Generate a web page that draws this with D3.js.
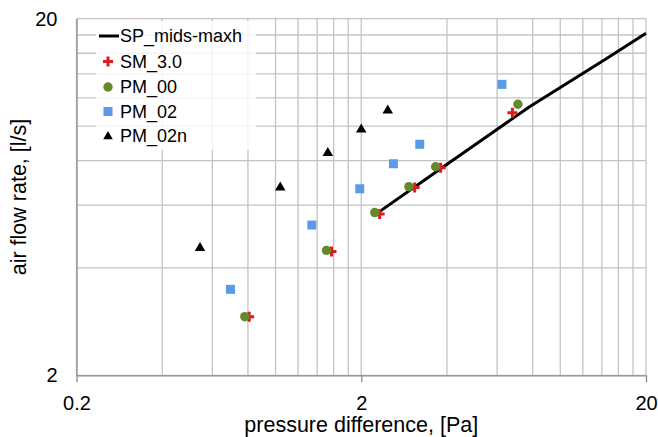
<!DOCTYPE html>
<html>
<head>
<meta charset="utf-8">
<script src="https://cdn.jsdelivr.net/npm/d3@7/dist/d3.min.js"></script>
<style>
  html, body { margin: 0; padding: 0; background: #fff; }
  svg { display: block; font-family: "Liberation Sans", Arial, sans-serif; }
</style>
</head>
<body>
<svg id="chart" width="658" height="437"></svg>
<script>
// Measured air flow rate vs pressure difference (log-log)
const xTickValues = [0.2, 2, 20];
const xTickLabels = ["0.2", "2", "20"];
const yTickValues = [2, 20];
const yTickLabels = ["2", "20"];

// SP_mids-maxh model curve
const spPressure = [2.2, 3.8, 7.8, 14.5, 20];
const spFlow     = [5.59, 7.59, 11.33, 15.45, 18.2];

// SM_3.0
const smPressure = [0.808, 1.572, 2.32, 3.08, 3.80, 6.79];
const smFlow     = [2.92, 4.45, 5.67, 6.72, 7.64, 10.90];

// PM_00
const pm00Pressure = [0.780, 1.51, 2.23, 2.94, 3.65, 7.10];
const pm00Flow     = [2.92, 4.48, 5.72, 6.76, 7.69, 11.51];

// PM_02
const pm02Pressure = [0.695, 1.341, 1.976, 2.594, 3.21, 6.24];
const pm02Flow     = [3.484, 5.277, 6.67, 7.84, 8.89, 13.09];

// PM_02n
const pm02nPressure = [0.543, 1.039, 1.526, 2.0, 2.478];
const pm02nFlow     = [4.566, 6.746, 8.43, 9.81, 11.09];

const seriesNames = ["SP_mids-maxh", "SM_3.0", "PM_00", "PM_02", "PM_02n"];

const svg = d3.select("#chart");
const plotLeft = 76.5, plotRight = 646, plotTop = 18.7, plotBottom = 375.3;

const x = d3.scaleLog().domain([0.2, 20]).range([plotLeft, plotRight]);
const y = d3.scaleLog().domain([2, 20]).range([plotBottom, plotTop]);

const gridColor = "#c3c3c3";
const axisColor = "#8c8c8c";

// Grid: every 0.2 in the first decade, every 2 in the second; y every 2
const xGrid = d3.range(1, 11).map(k => 0.2 * k).concat(d3.range(2, 11).map(k => 2 * k));
const yGrid = d3.range(1, 11).map(k => 2 * k);

const grid = svg.append("g");
grid.selectAll("line.gx").data(xGrid).join("line")
  .attr("class", "gx")
  .attr("x1", d => x(d)).attr("x2", d => x(d))
  .attr("y1", plotTop).attr("y2", plotBottom)
  .attr("stroke", gridColor).attr("stroke-width", 1.3);
grid.selectAll("line.gy").data(yGrid).join("line")
  .attr("class", "gy")
  .attr("x1", plotLeft).attr("x2", plotRight)
  .attr("y1", d => y(d)).attr("y2", d => y(d))
  .attr("stroke", gridColor).attr("stroke-width", 1.3);

// Axes
const xAxis = d3.axisBottom(x)
  .tickValues(xTickValues)
  .tickFormat((d, i) => xTickLabels[i])
  .tickSize(7).tickSizeOuter(0).tickPadding(14);
const gx = svg.append("g").attr("transform", `translate(0,${plotBottom})`).call(xAxis);
gx.select(".domain").attr("stroke", axisColor).attr("stroke-width", 1.3);
gx.selectAll(".tick line").attr("stroke", axisColor).attr("stroke-width", 1.3);
gx.selectAll(".tick text").attr("fill", "#000").attr("font-size", 20)
  .attr("font-family", "Liberation Sans, Arial, sans-serif");

const yAxis = d3.axisLeft(y)
  .tickValues(yTickValues)
  .tickFormat((d, i) => yTickLabels[i])
  .tickSize(0).tickSizeOuter(0).tickPadding(19);
const gy = svg.append("g").attr("transform", `translate(${plotLeft},0)`).call(yAxis);
gy.select(".domain").attr("stroke", axisColor).attr("stroke-width", 1.3);
gy.selectAll(".tick text").attr("fill", "#000").attr("font-size", 20)
  .attr("font-family", "Liberation Sans, Arial, sans-serif");

// Axis titles
svg.append("text")
  .attr("x", (plotLeft + plotRight) / 2).attr("y", 431.5)
  .attr("text-anchor", "middle").attr("font-size", 21.5)
  .text("pressure difference, [Pa]");
svg.append("text")
  .attr("transform", `translate(25.5,${(plotTop + plotBottom) / 2}) rotate(-90)`)
  .attr("text-anchor", "middle").attr("font-size", 21.5)
  .text("air flow rate, [l/s]");

// Legend panel (semi-opaque so grid shows faintly through)
svg.append("rect")
  .attr("x", 96).attr("y", 21).attr("width", 160).attr("height", 129)
  .attr("fill", "#fff").attr("opacity", 0.82);

const plot = svg.append("g");

// Model line
const spData = spPressure.map((p, i) => [p, spFlow[i]]);
plot.append("path")
  .datum(spData)
  .attr("d", d3.line().x(d => x(d[0])).y(d => y(d[1])))
  .attr("fill", "none").attr("stroke", "#000").attr("stroke-width", 3)
  .attr("stroke-linejoin", "round");

const red = "#e0191f", green = "#67872c", blue = "#5a9be6", black = "#000";

function crossPath(cx, cy, r) {
  return `M${cx - r},${cy}H${cx + r}M${cx},${cy - r}V${cy + r}`;
}

// SM_3.0 crosses
plot.selectAll("path.sm").data(smPressure.map((p, i) => [p, smFlow[i]])).join("path")
  .attr("class", "sm")
  .attr("d", d => crossPath(x(d[0]), y(d[1]), 5))
  .attr("stroke", red).attr("stroke-width", 3).attr("fill", "none");

// PM_00 circles
plot.selectAll("circle.pm00").data(pm00Pressure.map((p, i) => [p, pm00Flow[i]])).join("circle")
  .attr("class", "pm00")
  .attr("cx", d => x(d[0])).attr("cy", d => y(d[1])).attr("r", 4.7)
  .attr("fill", green);

// PM_02 squares
plot.selectAll("rect.pm02").data(pm02Pressure.map((p, i) => [p, pm02Flow[i]])).join("rect")
  .attr("class", "pm02")
  .attr("x", d => x(d[0]) - 4.5).attr("y", d => y(d[1]) - 4.5)
  .attr("width", 9).attr("height", 9).attr("fill", blue);

// PM_02n triangles
const tri = d3.symbol().type(d3.symbolTriangle).size(48);
plot.selectAll("path.pm02n").data(pm02nPressure.map((p, i) => [p, pm02nFlow[i]])).join("path")
  .attr("class", "pm02n")
  .attr("transform", d => `translate(${x(d[0])},${y(d[1]) + 0.5})`)
  .attr("d", tri).attr("fill", black);

// Legend entries
const lg = svg.append("g");
const rowY = [36, 61.5, 87, 111.5, 136];
const symX = 108;
lg.append("line").attr("x1", 99).attr("x2", 119).attr("y1", rowY[0]).attr("y2", rowY[0])
  .attr("stroke", black).attr("stroke-width", 3);
lg.append("path").attr("d", crossPath(symX, rowY[1], 5))
  .attr("stroke", red).attr("stroke-width", 3);
lg.append("circle").attr("cx", symX).attr("cy", rowY[2]).attr("r", 4.7).attr("fill", green);
lg.append("rect").attr("x", symX - 4.5).attr("y", rowY[3] - 4.5).attr("width", 9).attr("height", 9)
  .attr("fill", blue);
lg.append("path").attr("transform", `translate(${symX},${rowY[4] + 0.5})`)
  .attr("d", d3.symbol().type(d3.symbolTriangle).size(40)).attr("fill", black);
lg.selectAll("text").data(seriesNames).join("text")
  .attr("x", 120).attr("y", (d, i) => rowY[i])
  .attr("dy", "0.35em").attr("font-size", 18)
  .text(d => d);
</script>
</body>
</html>
